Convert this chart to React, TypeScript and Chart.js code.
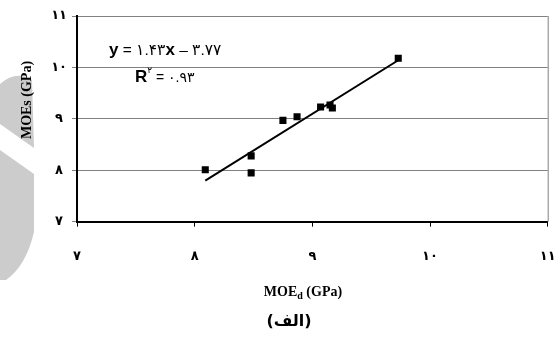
import React, { useEffect, useRef } from 'react';
import { Chart, registerables } from 'chart.js';

Chart.register(...registerables);

// Data
const moeD = [8.09, 8.48, 8.48, 8.75, 8.87, 9.07, 9.15, 9.17, 9.73];
const moeS = [8.01, 8.28, 7.95, 8.97, 9.04, 9.23, 9.27, 9.21, 10.18];
const trendX = [8.09, 9.73];
const trendY = [7.80, 10.14];
const tickValues = [7, 8, 9, 10, 11];
const xTickLabels = ['۷', '۸', '۹', '۱۰', '۱۱'];
const yTickLabels = ['۷', '۸', '۹', '۱۰', '۱۱'];
const xTitleMain = 'MOE';
const xTitleSub = 'd';
const xTitleRest = ' (GPa)';
const yTitle = 'MOEs (GPa)';
const caption = '(الف)';
const eqLine1 = [
  { t: 'y', big: true },
  { t: ' = ۱.۴۳', wide: true },
  { t: 'x', big: true },
  { t: ' – ۳.۷۷', wide: true },
];
const eqLine2 = [
  { t: 'R', big: true },
  { t: '۲', sup: true },
  { t: ' = ۰.۹۳' },
];

const BIG = 'bold 17px "Liberation Sans", Arial, "DejaVu Sans"';
const WIDE = '15.5px "Liberation Sans", Arial, "DejaVu Sans"';
const SMALL = '14px "Liberation Sans", Arial, "DejaVu Sans"';
const SUP = '9px "Liberation Sans", Arial, "DejaVu Sans"';

function drawPieces(ctx: CanvasRenderingContext2D, pieces: any[], x: number, y: number) {
  let cx = x;
  for (const p of pieces) {
    ctx.font = p.big ? BIG : p.sup ? SUP : p.wide ? WIDE : SMALL;
    const yy = p.sup ? y - 9 : y;
    ctx.fillText(p.t, cx, yy);
    cx += ctx.measureText(p.t).width;
  }
}

const extras = {
  id: 'extras',
  beforeDraw(chart: any) {
    const ctx = chart.ctx as CanvasRenderingContext2D;
    ctx.save();
    ctx.fillStyle = '#ffffff';
    ctx.fillRect(0, 0, chart.width, chart.height);
    // watermark
    ctx.fillStyle = '#cccccc';
    ctx.beginPath();
    ctx.moveTo(0, 84);
    ctx.quadraticCurveTo(16, 70, 32, 80);
    ctx.lineTo(34, 148);
    ctx.lineTo(0, 124);
    ctx.closePath();
    ctx.fill();
    ctx.beginPath();
    ctx.moveTo(0, 150);
    ctx.lineTo(34, 174);
    ctx.lineTo(34, 232);
    ctx.quadraticCurveTo(26, 266, 6, 280);
    ctx.lineTo(0, 280);
    ctx.closePath();
    ctx.fill();
    ctx.restore();
  },
  afterDraw(chart: any) {
    const ctx = chart.ctx as CanvasRenderingContext2D;
    const { right, top, bottom } = chart.chartArea;
    ctx.save();
    ctx.strokeStyle = '#808080';
    ctx.lineWidth = 1;
    ctx.beginPath();
    ctx.moveTo(right + 0.5, top);
    ctx.lineTo(right + 0.5, bottom);
    ctx.stroke();

    ctx.fillStyle = '#000';
    ctx.textBaseline = 'alphabetic';
    ctx.textAlign = 'left';
    drawPieces(ctx, eqLine1, 109, 55);
    drawPieces(ctx, eqLine2, 135, 82);

    // y title
    ctx.save();
    ctx.translate(27, 100);
    ctx.rotate(-Math.PI / 2);
    ctx.font = 'bold 14px "Liberation Serif", "Times New Roman", serif';
    ctx.textAlign = 'center';
    ctx.textBaseline = 'middle';
    ctx.fillText(yTitle, 0, 0);
    ctx.restore();

    // x title with subscript
    const fMain = 'bold 14px "Liberation Serif", "Times New Roman", serif';
    const fSub = 'bold 10px "Liberation Serif", "Times New Roman", serif';
    ctx.font = fMain;
    const w1 = ctx.measureText(xTitleMain).width;
    const w3 = ctx.measureText(xTitleRest).width;
    ctx.font = fSub;
    const w2 = ctx.measureText(xTitleSub).width;
    let sx = 303 - (w1 + w2 + w3) / 2;
    const by = 296;
    ctx.font = fMain;
    ctx.fillText(xTitleMain, sx, by);
    sx += w1;
    ctx.font = fSub;
    ctx.fillText(xTitleSub, sx, by + 3);
    sx += w2;
    ctx.font = fMain;
    ctx.fillText(xTitleRest, sx, by);

    // caption
    ctx.font = 'bold 16px "DejaVu Sans", sans-serif';
    ctx.textAlign = 'center';
    ctx.textBaseline = 'middle';
    ctx.fillText(caption, 289, 322);
    ctx.restore();
  },
};

export default function App() {
  const ref = useRef<HTMLCanvasElement>(null);
  useEffect(() => {
    document.body.style.margin = '0';
    const points = moeD.map((x, i) => ({ x, y: moeS[i] }));
    const trend = trendX.map((x, i) => ({ x, y: trendY[i] }));
    const tickFont = { family: '"DejaVu Sans", sans-serif', size: 13, weight: 'bold' as const };
    const chart = new Chart(ref.current!, {
      type: 'scatter',
      data: {
        datasets: [
          {
            type: 'line',
            data: trend,
            borderColor: '#000',
            borderWidth: 2,
            pointRadius: 0,
            fill: false,
          } as any,
          {
            data: points,
            pointStyle: 'rect',
            pointRadius: 5,
            backgroundColor: '#000',
            borderColor: '#000',
            borderWidth: 0,
          },
        ],
      },
      options: {
        animation: false,
        responsive: false,
        layout: { padding: { left: 0, right: 11.3, top: 16, bottom: 0 } },
        plugins: { legend: { display: false }, tooltip: { enabled: false } },
        scales: {
          x: {
            type: 'linear',
            min: tickValues[0],
            max: tickValues[tickValues.length - 1],
            afterBuildTicks: (s: any) => {
              s.ticks = tickValues.map((v) => ({ value: v }));
            },
            ticks: {
              callback: (v: any) => xTickLabels[tickValues.indexOf(Number(v))],
              font: tickFont,
              color: '#000',
              padding: 22,
              maxRotation: 0,
              autoSkip: false,
            },
            grid: { drawOnChartArea: false, color: '#000', tickLength: 5, lineWidth: 1 },
            border: { color: '#000', width: 2 },
            afterFit: (s: any) => {
              s.height = 123.3;
              s.paddingLeft = 0;
              s.paddingRight = 0;
            },
          },
          y: {
            type: 'linear',
            min: tickValues[0],
            max: tickValues[tickValues.length - 1],
            afterBuildTicks: (s: any) => {
              s.ticks = tickValues.map((v) => ({ value: v }));
            },
            ticks: {
              callback: (v: any) => yTickLabels[tickValues.indexOf(Number(v))],
              font: tickFont,
              color: '#000',
              padding: 5,
              crossAlign: 'center',
              autoSkip: false,
            },
            grid: { color: '#808080', tickLength: 5, lineWidth: 1 },
            border: { color: '#000', width: 2 },
            afterFit: (s: any) => {
              s.width = 77;
              s.paddingTop = 0;
              s.paddingBottom = 0;
            },
          },
        },
      },
      plugins: [extras],
    });
    return () => chart.destroy();
  }, []);
  return (
    <div style={{ position: 'absolute', left: 0, top: 0, width: 559, height: 345 }}>
      <canvas ref={ref} width={559} height={345} style={{ width: 559, height: 345, display: 'block' }} />
    </div>
  );
}
